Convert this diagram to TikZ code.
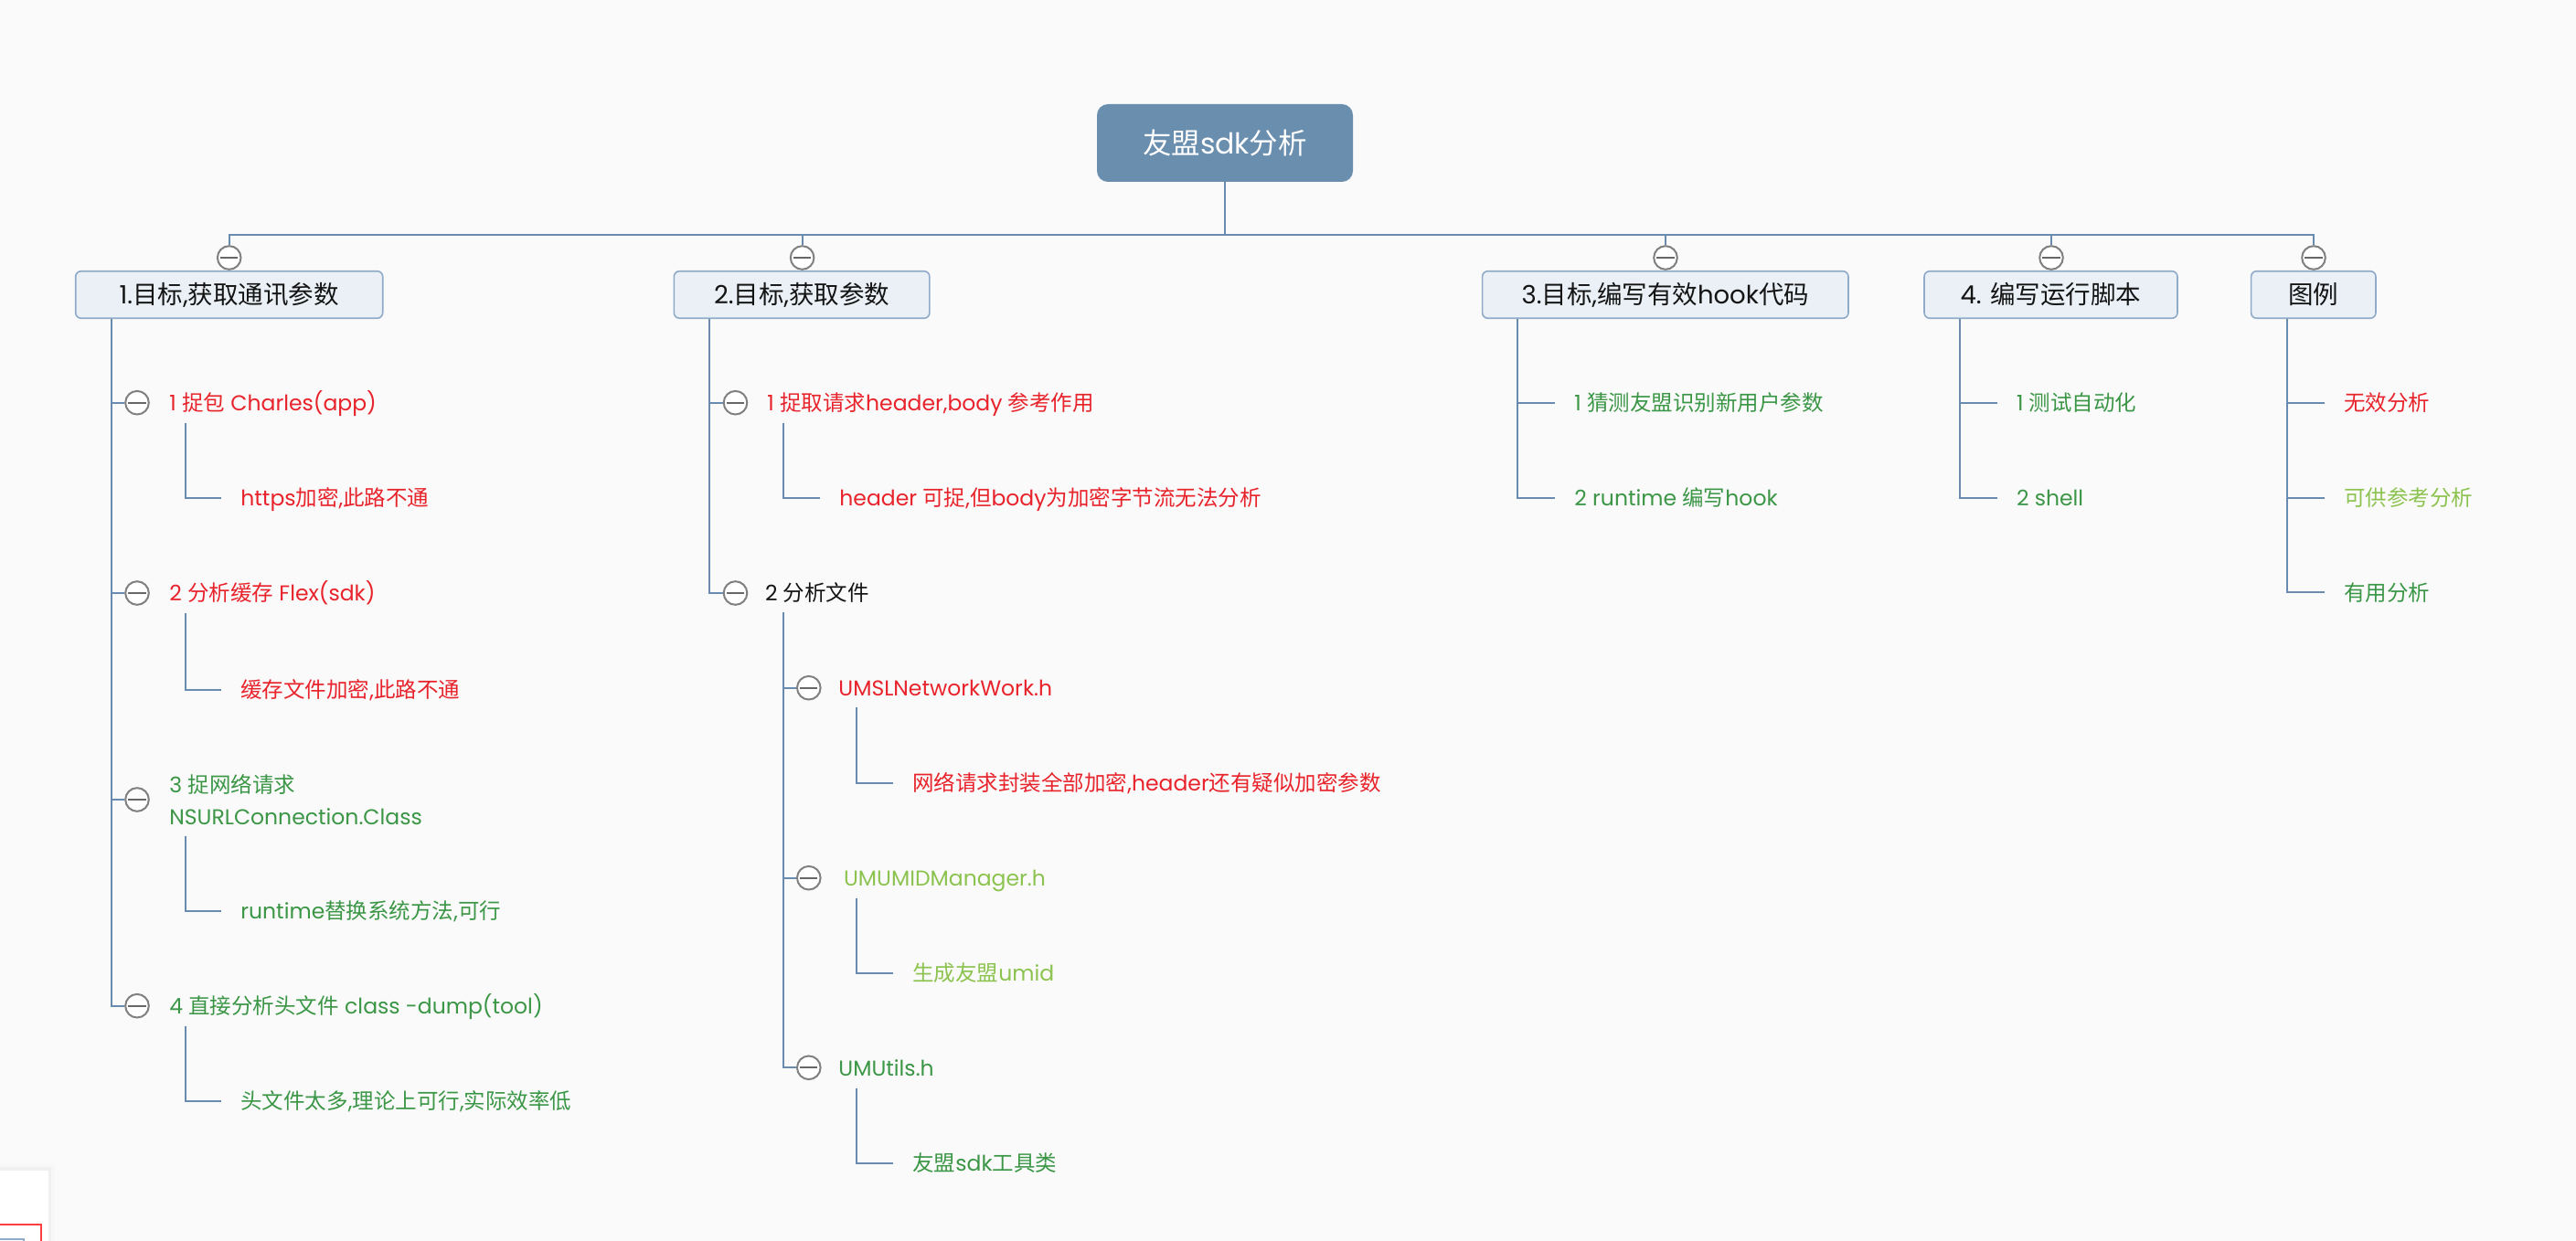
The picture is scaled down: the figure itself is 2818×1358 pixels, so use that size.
\documentclass[tikz,border=0pt]{standalone}
\usepackage{fontspec}
\setmainfont{Poppins}
\newfontfamily\cjkfont{Noto Sans CJK SC}
\XeTeXinterchartokenstate=1
\newXeTeXintercharclass\CJKcls
\makeatletter
\count@="4E00
\loop\ifnum\count@<"A000 \XeTeXcharclass\count@=\CJKcls\relax \advance\count@ by 1\relax\repeat
\makeatother
\XeTeXinterchartoks 0 \CJKcls = {\cjkfont}
\XeTeXinterchartoks 4095 \CJKcls = {\cjkfont}
\XeTeXinterchartoks \CJKcls 0 = {\rmfamily}
\XeTeXinterchartoks \CJKcls 4095 = {\rmfamily}

\definecolor{bgc}{HTML}{FAFAFA}
\definecolor{linec}{HTML}{6A8BB0}
\definecolor{boxb}{HTML}{8FABC9}
\definecolor{boxf}{HTML}{EAF0F6}
\definecolor{rootc}{HTML}{6A8EAE}
\definecolor{togc}{HTML}{808080}
\definecolor{badc}{HTML}{E8232B}
\definecolor{goodc}{HTML}{3B9646}
\definecolor{refc}{HTML}{8CC34F}
\definecolor{titlec}{HTML}{141414}

\tikzset{
  conn/.style={draw=linec, line width=1pt},
  rootbox/.style={rectangle, rounded corners=6pt, fill=rootc, text=white,
    minimum width=140pt, minimum height=42.5pt, inner sep=0pt,
    text height=11.8pt, text depth=0pt, font=\fontsize{15.75}{18}\selectfont},
  topbox/.style={rectangle, rounded corners=3pt, draw=boxb, line width=0.8pt, fill=boxf,
    minimum height=25.75pt, inner sep=0pt, text=titlec,
    text height=10.3pt, text depth=0pt, font=\fontsize{13.75}{16}\selectfont},
  tog/.style={circle, draw=togc, line width=1pt, fill=white, minimum size=12.8pt, inner sep=0pt,
    path picture={\draw[togc!80!black, line width=1pt]
      ([xshift=-4.8pt]path picture bounding box.center) -- ([xshift=4.8pt]path picture bounding box.center);}},
  lbl/.style={anchor=west, inner sep=0pt, text height=8.8pt, text depth=0pt,
    font=\fontsize{11.75}{17.5}\selectfont},
  lbltwo/.style={anchor=west, inner sep=0pt, align=left,
    font=\fontsize{11.75}{17.5}\selectfont},
  leaf/.style={lbl, inner xsep=10.5pt},
  redtxt/.style={text=badc},
  grntxt/.style={text=goodc},
  ltgtxt/.style={text=refc},
  blktxt/.style={text=titlec}
}

\begin{document}
\begin{tikzpicture}[x=0.5pt,y=-0.5pt]
\useasboundingbox (0,0) rectangle (2818,1358);
\fill[bgc] (0,0) rectangle (2818,1358);

% root and main topics
\node[rootbox] (root) at (1340,156.5) {友盟sdk分析};
\node[topbox, minimum width=168pt] (b1) at (250.7,322.5) {1.目标,获取通讯参数};
\node[topbox, minimum width=139.8pt] (b2) at (877.1,322.5) {2.目标,获取参数};
\node[topbox, minimum width=200.2pt] (b3) at (1821.8,322.5) {3.目标,编写有效hook代码};
\node[topbox, minimum width=138.5pt] (b4) at (2243.5,322.5) {4. 编写运行脚本};
\node[topbox, minimum width=68.2pt] (b5) at (2530.8,322.5) {图例};

\node[tog] (m1) at (250.7,282) {};
\node[tog] (m2) at (877.6,282) {};
\node[tog] (m3) at (1822,282) {};
\node[tog] (m4) at (2244,282) {};
\node[tog] (m5) at (2531,282) {};

\coordinate (bus) at (0,257);
\draw[conn] (root.south) -- (root.south |- bus);
\draw[conn] (m1.north) -- (m1.north |- bus) -- (m5.north |- bus) -- (m5.north);
\foreach \m in {m2,m3,m4} \draw[conn] (\m.north) -- (\m.north |- bus);

\coordinate (t1) at ([xshift=20pt]b1.south west);
\coordinate (t2) at ([xshift=19.5pt]b2.south west);
\coordinate (t3) at ([xshift=19.75pt]b3.south west);
\coordinate (t4) at ([xshift=19.7pt]b4.south west);
\coordinate (t5) at ([xshift=20pt]b5.south west);

% ---------- branch 1 ----------
\node[tog] (k11) at (150,440.7) {};
\node[lbl, redtxt] (x11) at (185,440.7) {1 捉包 Charles(app)};
\node[leaf, redtxt] (l11) at (242,545) {https加密,此路不通};
\coordinate (s11) at (202.6,462.7);

\node[tog] (k12) at (150,649) {};
\node[lbl, redtxt] (x12) at (185,649) {2 分析缓存 Flex(sdk)};
\node[leaf, redtxt] (l12) at (242,755) {缓存文件加密,此路不通};
\coordinate (s12) at (202.6,670.7);

\node[tog] (k13) at (150,875) {};
\node[lbltwo, grntxt] (x13) at (185,875) {3 捉网络请求\\NSURLConnection.Class};
\node[leaf, grntxt] (l13) at (242,996.7) {runtime替换系统方法,可行};
\coordinate (s13) at (202.6,915);

\node[tog] (k14) at (150,1100.7) {};
\node[lbl, grntxt] (x14) at (185,1100.7) {4 直接分析头文件 class -dump(tool)};
\node[leaf, grntxt] (l14) at (242,1205) {头文件太多,理论上可行,实际效率低};
\coordinate (s14) at (202.6,1122.7);

\foreach \k in {k11,k12,k13,k14} \draw[conn] (t1) |- (\k.west);
\draw[conn] (s11) |- (l11.west);
\draw[conn] (s12) |- (l12.west);
\draw[conn] (s13) |- (l13.west);
\draw[conn] (s14) |- (l14.west);

% ---------- branch 2 ----------
\node[tog] (k21) at (804.5,440.7) {};
\node[lbl, redtxt] (x21) at (839,440.7) {1 捉取请求header,body 参考作用};
\node[leaf, redtxt] (l21) at (897,545) {header 可捉,但body为加密字节流无法分析};
\coordinate (s21) at (856.7,462.7);

\node[tog] (k22) at (804.5,649) {};
\node[lbl, blktxt] (x22) at (836.6,649) {2 分析文件};
\coordinate (s22) at (856.7,670);

\node[tog] (k221) at (884.8,752.7) {};
\node[lbl, redtxt] (x221) at (917,752.7) {UMSLNetworkWork.h};
\node[leaf, redtxt] (l221) at (977,856.7) {网络请求封装全部加密,header还有疑似加密参数};
\coordinate (s221) at (936.5,774);

\node[tog] (k222) at (884.8,960.7) {};
\node[lbl, ltgtxt] (x222) at (922.7,960.7) {UMUMIDManager.h};
\node[leaf, ltgtxt] (l222) at (977,1065) {生成友盟umid};
\coordinate (s222) at (936.5,982.7);

\node[tog] (k223) at (884.8,1168.3) {};
\node[lbl, grntxt] (x223) at (917,1168.3) {UMUtils.h};
\node[leaf, grntxt] (l223) at (977,1272.7) {友盟sdk工具类};
\coordinate (s223) at (936.5,1190.7);

\draw[conn] (t2) |- (k21.west);
\draw[conn] (t2) |- (k22.west);
\draw[conn] (s21) |- (l21.west);
\foreach \k in {k221,k222,k223} \draw[conn] (s22) |- (\k.west);
\draw[conn] (s221) |- (l221.west);
\draw[conn] (s222) |- (l222.west);
\draw[conn] (s223) |- (l223.west);

% ---------- branch 3 ----------
\node[leaf, grntxt] (l31) at (1701,441) {1 猜测友盟识别新用户参数};
\node[leaf, grntxt] (l32) at (1701,544.7) {2 runtime 编写hook};
\draw[conn] (t3) |- (l31.west);
\draw[conn] (t3) |- (l32.west);

% ---------- branch 4 ----------
\node[leaf, grntxt] (l41) at (2184.6,441) {1 测试自动化};
\node[leaf, grntxt] (l42) at (2184.6,544.7) {2 shell};
\draw[conn] (t4) |- (l41.west);
\draw[conn] (t4) |- (l42.west);

% ---------- legend ----------
\node[leaf, redtxt] (l51) at (2543,441) {无效分析};
\node[leaf, ltgtxt] (l52) at (2543,544.7) {可供参考分析};
\node[leaf, grntxt] (l53) at (2543,648.3) {有用分析};
\draw[conn] (t5) |- (l51.west);
\draw[conn] (t5) |- (l52.west);
\draw[conn] (t5) |- (l53.west);

% ---------- bottom-left screen fragment ----------
\begin{scope}
\clip (0,0) rectangle (2818,1358);
\fill[black!3] (-20,1274) rectangle (60,1380);
\fill[black!6] (-20,1277) rectangle (56,1380);
\fill[white] (-20,1281) rectangle (53,1380);
\draw[red!75, line width=1.1pt] (-20,1340) -- (45,1340) -- (45,1380);
\draw[boxb, line width=0.8pt] (-20,1356) -- (26,1356) -- (26,1380);
\end{scope}
\end{tikzpicture}
\end{document}
